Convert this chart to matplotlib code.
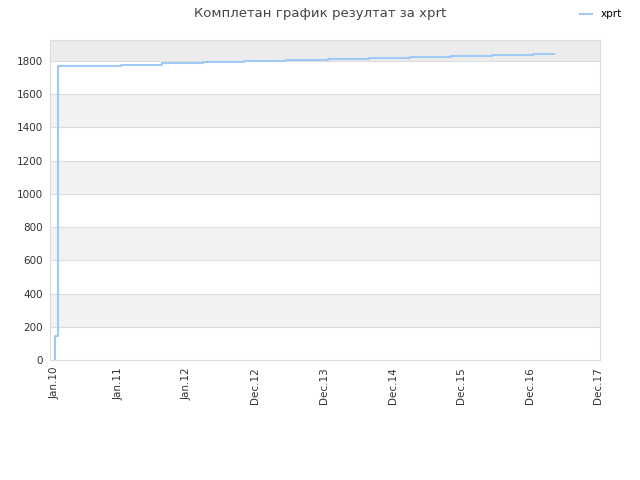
import matplotlib
matplotlib.use("Agg")
import matplotlib.pyplot as plt
import pandas as pd

# step data
dates = ["2010-01-28", "2010-01-28",
         "2010-02-12", "2010-02-12", "2010-02-12", "2010-02-12", "2010-02-12",
         "2010-02-12", "2010-02-12",
         "2010-06-11", "2011-01-15", "2011-08-22", "2012-03-28", "2012-11-02",
         "2013-06-09", "2014-01-19", "2014-08-26", "2015-04-01", "2015-11-06",
         "2016-06-12", "2017-01-17", "2017-05-09"]
values = [0, 145,
          157, 427, 692, 963, 1120, 1565, 1766,
          1771, 1777, 1784, 1790, 1797,
          1803, 1808, 1814, 1820, 1826,
          1832, 1838, 1838]

tick_dates = ["2010-01-28", "2011-01-01", "2012-01-01", "2012-12-31", "2013-12-31",
              "2014-12-31", "2015-12-31", "2016-12-30", "2017-12-30"]
tick_labels = ["Jan.10", "Jan.11", "Jan.12", "Dec.12", "Dec.13",
               "Dec.14", "Dec.15", "Dec.16", "Dec.17"]

x = pd.to_datetime(dates)

fig = plt.figure(figsize=(6.4, 4.8), dpi=100)
ax = fig.add_axes([50/640, 1 - 360/480, 550/640, 320/480])

ymax = 1925
# alternating bands
for lo in range(200, 1800, 400):
  ax.axhspan(lo, lo + 200, color='#f2f2f2', zorder=0, lw=0)
ax.axhspan(1800, ymax, color='#ececec', zorder=0, lw=0)
for yv in range(200, 1801, 200):
  ax.axhline(yv, color='#dddddd', lw=0.8, zorder=1)

ax.plot(x, values, drawstyle='steps-post', color='#9ecaf5', lw=1.5, label='xprt', zorder=3)

ax.set_ylim(0, ymax)
ax.set_xlim(pd.Timestamp("2010-01-02"), pd.Timestamp("2018-01-08"))
ax.set_yticks(range(0, 1801, 200))
ax.set_xticks(pd.to_datetime(tick_dates))
ax.set_xticklabels(tick_labels, rotation=90)
ax.tick_params(length=0, labelsize=7.5, colors='#333333', pad=5)

for s in ax.spines.values():
  s.set_color('#dddddd')
  s.set_linewidth(0.8)

fig.suptitle("Комплетан график резултат за xprt", fontsize=9.5, color='#444444', y=0.985)
fig.legend(loc='upper right', bbox_to_anchor=(0.986, 1.0), frameon=False,
           fontsize=7.5, handlelength=1.2, handletextpad=0.8)

fig.savefig("out.png", dpi=100)
